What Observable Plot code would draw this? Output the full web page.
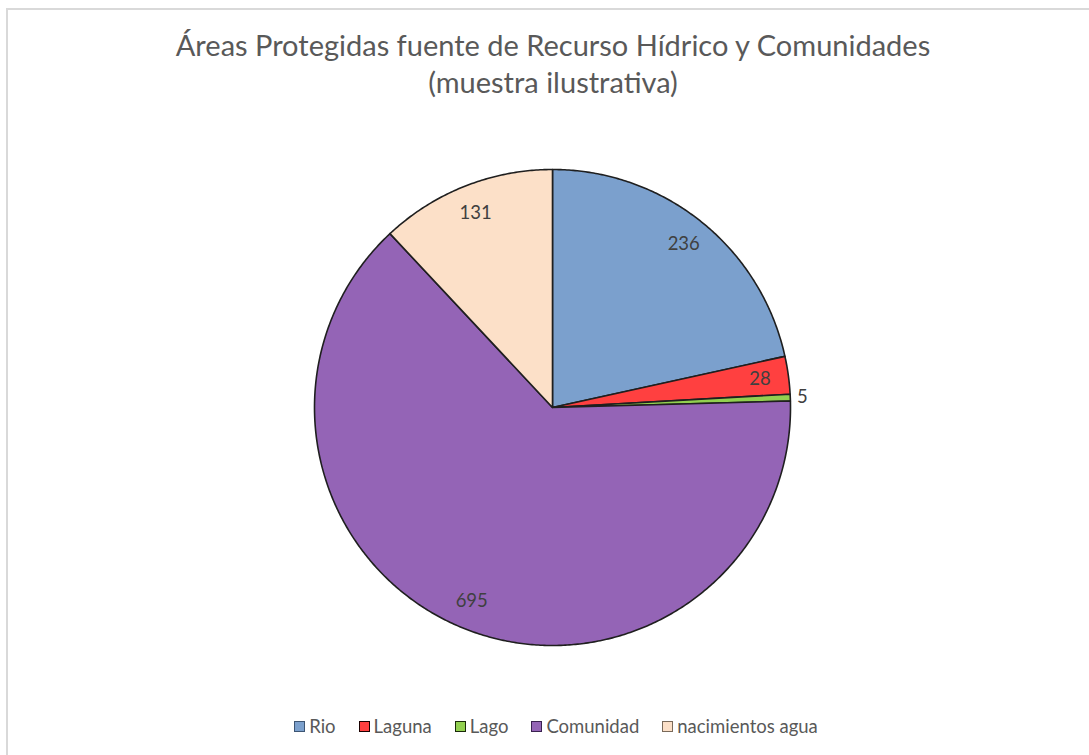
<!DOCTYPE html>
<html>
<head>
<meta charset="utf-8">
<script src="https://cdn.jsdelivr.net/npm/d3@7"></script>
<script src="https://cdn.jsdelivr.net/npm/@observablehq/plot@0.6"></script>
<style>
  html, body { margin: 0; padding: 0; background: #fff; width: 1089px; height: 755px; overflow: hidden; }
  #frame { position: absolute; left: 6px; top: 8px; width: 1120px; height: 800px; border-left: 2px solid #d9d9d9; border-top: 2px solid #d9d9d9; box-sizing: border-box; }
  #title { position: absolute; left: 0; width: 1106px; top: 26px; text-align: center; font-family: Lato, sans-serif; font-size: 29px; line-height: 37px; color: #595959; }
  #chart { position: absolute; left: 0; top: 0; }
  #legend { position: absolute; left: 0; width: 1112px; top: 715px; display: flex; justify-content: center; gap: 23px; font-family: Lato, sans-serif; font-size: 18.5px; color: #595959; }
  .item { display: flex; align-items: center; gap: 4px; }
  .sw { width: 9px; height: 9px; border: 1.5px solid #333; }
</style>
</head>
<body>
<div id="frame"></div>
<div id="chart"></div>
<div id="title">Áreas Protegidas fuente de Recurso Hídrico y Comunidades<br>(muestra ilustrativa)</div>
<div id="legend"></div>
<script>
const categories = ["Rio", "Laguna", "Lago", "Comunidad", "nacimientos agua"];
const values = [236, 28, 5, 695, 131];
const colors = ["#7BA0CD", "#FF4040", "#92D050", "#9464B6", "#FCE0C8"];
const swatchBorders = ["#3d5573", "#1a0000", "#1a2a0a", "#3a2250", "#7a6a5a"];

const cx = 552, cy = 407, R = 238;
const total = d3.sum(values);
const slices = d3.pie().sort(null).startAngle(0).endAngle(2 * Math.PI)(values)
  .map((p, i) => ({...p, name: categories[i]}));

// polygon outline of each slice in unit coordinates (angle clockwise from north)
const pts = [];
for (const s of slices) {
  pts.push({name: s.name, x: 0, y: 0});
  const n = Math.max(2, Math.ceil((s.endAngle - s.startAngle) / (Math.PI / 360)));
  for (let k = 0; k <= n; k++) {
    const a = s.startAngle + (s.endAngle - s.startAngle) * k / n;
    pts.push({name: s.name, x: Math.sin(a), y: Math.cos(a)});
  }
}

const labels = slices.map(s => {
  const a = (s.startAngle + s.endAngle) / 2;
  const small = s.value / total < 0.01;
  const r = small ? 1.045 : 0.88;
  return {text: String(s.value), x: r * Math.sin(a), y: r * Math.cos(a), anchor: small ? "start" : "middle"};
});

const plot = Plot.plot({
  width: 1089,
  height: 755,
  margin: 0,
  x: {domain: [-1, 1], range: [cx - R, cx + R], axis: null},
  y: {domain: [-1, 1], range: [cy + R, cy - R], axis: null},
  color: {domain: categories, range: colors},
  style: {background: "transparent"},
  marks: [
    Plot.line(pts, {x: "x", y: "y", z: "name", fill: "name", stroke: "#1f1f1f", strokeWidth: 1.6, strokeLinejoin: "round", curve: "linear-closed"}),
    Plot.text(labels.filter(d => d.anchor === "middle"), {x: "x", y: "y", text: "text", fill: "#404040", fontSize: 18.5, fontFamily: "Lato, sans-serif", textAnchor: "middle"}),
    Plot.text(labels.filter(d => d.anchor === "start"), {x: "x", y: "y", text: "text", fill: "#404040", fontSize: 18.5, fontFamily: "Lato, sans-serif", textAnchor: "start", dx: -4})
  ]
});
document.getElementById("chart").appendChild(plot);

const legend = document.getElementById("legend");
categories.forEach((c, i) => {
  const it = document.createElement("div");
  it.className = "item";
  const sw = document.createElement("div");
  sw.className = "sw";
  sw.style.background = colors[i];
  sw.style.borderColor = swatchBorders[i];
  const t = document.createElement("span");
  t.textContent = c;
  it.appendChild(sw); it.appendChild(t);
  legend.appendChild(it);
});
</script>
</body>
</html>
